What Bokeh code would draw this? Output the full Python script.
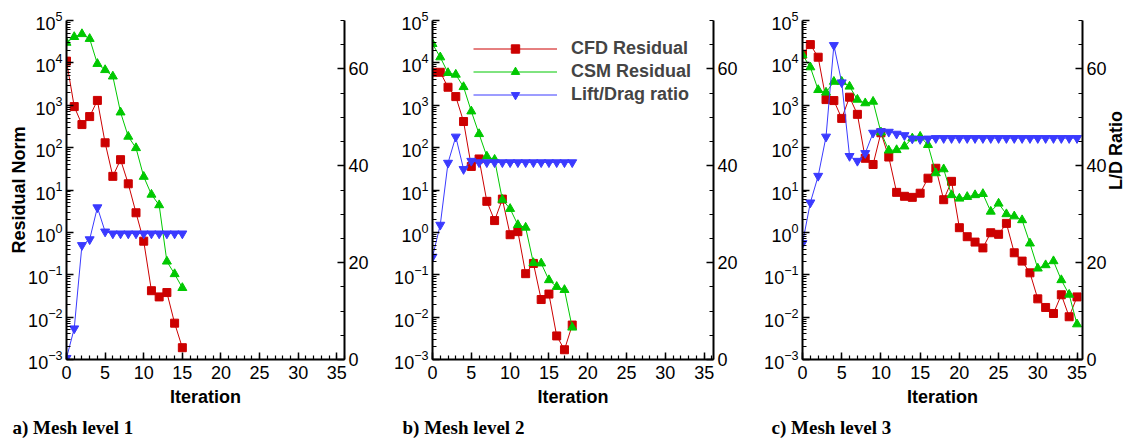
import math
from bokeh.plotting import figure
from bokeh.layouts import row
from bokeh.models import (Range1d, LinearAxis, LinearScale, FixedTicker,
                          LogTickFormatter, Title, Legend, LegendItem)
from bokeh.embed import file_html
from bokeh.resources import INLINE

# ---------------- data ----------------
iters1 = list(range(16))
cfd1 = [1.1e4, 930, 350, 540, 1300, 130, 21, 52, 14, 2.9, 0.62, 0.042, 0.030,
        0.038, 0.0072, 0.0019]
csm1 = [3.0e4, 4.1e4, 4.8e4, 3.7e4, 9.5e3, 6.8e3, 4.8e3, 680, 182, 98, 20.6,
        7.8, 4.4, 0.206, 0.104, 0.049]
ld1 = [0.3, 6.4, 23.6, 24.8, 31.4, 26.4, 26.0, 26.0, 26.0, 26.0, 26.0, 26.0,
       26.0, 26.0, 26.0, 26.0]

iters2 = list(range(19))
cfd2 = [6.0e3, 6.0e3, 2.66e3, 1.6e3, 413, 36, 54, 5.4, 1.9, 6.1, 0.88, 1.04,
        0.106, 0.185, 0.026, 0.035, 0.0036, 0.0017, 0.0065]
csm2 = [2.8e4, 1.36e4, 5.8e3, 5.3e3, 2.7e3, 720, 210, 62, 52, 5.9, 3.6, 1.5,
        1.3, 0.19, 0.186, 0.075, 0.052, 0.044, 0.0057]
ld2 = [21.2, 27.8, 40.6, 46.0, 39.3, 41.0, 40.7, 40.7, 40.7, 40.7, 40.7, 40.7,
       40.7, 40.7, 40.7, 40.7, 40.7, 40.7, 40.7]

iters3 = list(range(36))
cfd3 = [1.6e4, 2.7e4, 1.36e4, 1.36e3, 1.29e3, 490, 1.55e3, 610, 56, 40, 224,
        60, 8.8, 7.1, 6.7, 8.4, 19, 32.6, 5.9, 16, 1.29, 0.79, 0.59, 0.43,
        0.98, 0.90, 1.63, 0.33, 0.21, 0.111, 0.027, 0.0169, 0.0122, 0.0337,
        0.0102, 0.030]
csm3 = [1.55e4, 7.9e3, 2.3e3, 2.0e3, 3.6e3, 3.6e3, 2.77e3, 1.36e3, 1.12e3,
        1.22e3, 230, 86, 88, 107, 166, 182, 116, 25, 31, 7.6, 6.3, 6.9, 7.6,
        8.1, 3.1, 4.8, 2.7, 2.4, 1.95, 0.55, 0.141, 0.169, 0.21, 0.075, 0.034,
        0.0068]
ld3 = [24.0, 32.4, 37.9, 46.0, 64.9, 57.2, 42.0, 41.0, 42.6, 46.8, 47.1, 47.0,
       46.6, 46.3, 45.6, 45.5, 45.6, 45.7, 45.7, 45.7, 45.7, 45.7, 45.7, 45.7,
       45.7, 45.7, 45.7, 45.7, 45.7, 45.7, 45.7, 45.7, 45.7, 45.7, 45.7, 45.7]

x_ticks = [0, 5, 10, 15, 20, 25, 30, 35]
ld_ticks = [0, 20, 40, 60]
series_labels = ["CFD Residual", "CSM Residual", "Lift/Drag ratio"]
panel_titles = ["a) Mesh level 1", "b) Mesh level 2", "c) Mesh level 3"]

RED = "#cc0000"
GREEN = "#00c800"
BLUE = "#3a3aff"
FONT = "Liberation Sans"


def style_axis(ax):
    ax.axis_line_width = 2
    ax.axis_line_color = "black"
    ax.major_tick_in = 7
    ax.major_tick_out = 0
    ax.minor_tick_in = 4
    ax.minor_tick_out = 0
    ax.major_tick_line_width = 1.5
    ax.minor_tick_line_width = 1.2
    ax.major_label_text_font = FONT
    ax.major_label_text_font_size = "18px"
    ax.major_label_text_color = "black"
    ax.axis_label_text_font = FONT
    ax.axis_label_text_font_size = "18px"
    ax.axis_label_text_font_style = "bold"
    ax.axis_label_text_color = "black"


def make_panel(it, cfd, csm, ld, xmax, frame_w, bl, br, title, title_off,
               ylabel=None, rlabel=None, legend=False):
    p = figure(frame_width=frame_w, frame_height=339,
               x_range=Range1d(0, xmax), y_range=Range1d(1e-3, 1e5),
               y_axis_type="log", output_backend="svg", toolbar_location=None,
               min_border_left=bl, min_border_right=br, min_border_top=20,
               min_border_bottom=80)
    p.outline_line_color = None
    p.xgrid.visible = False
    p.ygrid.visible = False
    p.extra_y_ranges = {"ld": Range1d(0, 70)}
    p.extra_y_scales = {"ld": LinearScale()}

    xa = p.xaxis[0]
    xa.ticker = FixedTicker(ticks=x_ticks, minor_ticks=list(range(0, 37)))
    xa.axis_label = "Iteration"
    style_axis(xa)
    xa.major_label_standoff = 6
    xa.axis_label_standoff = 5

    ya = p.yaxis[0]
    ya.ticker = FixedTicker(
        ticks=[10.0 ** k for k in range(-3, 6)],
        minor_ticks=[m * 10.0 ** k for k in range(-3, 5) for m in range(2, 10)])
    ya.formatter = LogTickFormatter()
    style_axis(ya)
    ya.major_label_standoff = 4
    if ylabel:
        ya.axis_label = ylabel
        ya.axis_label_standoff = -4

    ra = LinearAxis(y_range_name="ld",
                    ticker=FixedTicker(ticks=ld_ticks,
                                       minor_ticks=list(range(0, 71, 5))))
    style_axis(ra)
    ra.major_label_standoff = 4
    if rlabel:
        ra.axis_label = rlabel
        ra.axis_label_standoff = 6
        try:
            ra.axis_label_orientation = math.pi / 2
        except Exception:
            pass
    p.add_layout(ra, "right")

    l1 = p.line(it, cfd, color=RED, line_width=1)
    s1 = p.scatter(it, cfd, marker="square", size=8, color=RED)
    l2 = p.line(it, csm, color=GREEN, line_width=1)
    s2 = p.scatter(it, csm, marker="triangle", size=9, color=GREEN)
    l3 = p.line(it, ld, color=BLUE, line_width=1, y_range_name="ld")
    s3 = p.scatter(it, ld, marker="inverted_triangle", size=9, color=BLUE,
                   y_range_name="ld")

    if legend:
        lg = Legend(items=[LegendItem(label=series_labels[0], renderers=[l1, s1]),
                           LegendItem(label=series_labels[1], renderers=[l2, s2]),
                           LegendItem(label=series_labels[2], renderers=[l3, s3])],
                    location=(41, 254), padding=5, spacing=2, margin=0,
                    label_height=21, glyph_height=21, glyph_width=84,
                    label_standoff=14, border_line_color=None,
                    background_fill_alpha=0,
                    label_text_font=FONT, label_text_font_style="bold",
                    label_text_font_size="18px")
        p.add_layout(lg, "center")

    t = Title(text=title, align="left", offset=title_off, standoff=11,
              text_font="Liberation Serif", text_font_size="19px",
              text_font_style="bold", text_color="black")
    p.add_layout(t, "below")
    return p


p1 = make_panel(iters1, cfd1, csm1, ld1, 36.0, 278, 66, 40, panel_titles[0],
                -54, ylabel="Residual Norm")
p2 = make_panel(iters2, cfd2, csm2, ld2, 36.2, 281, 48, 39, panel_titles[1],
                -30, legend=True)
p3 = make_panel(iters3, cfd3, csm3, ld3, 35.7, 280, 50, 52, panel_titles[2],
                -31, rlabel="L/D Ratio")

layout = row(p1, p2, p3)
open("out.html", "w").write(file_html(layout, INLINE))
